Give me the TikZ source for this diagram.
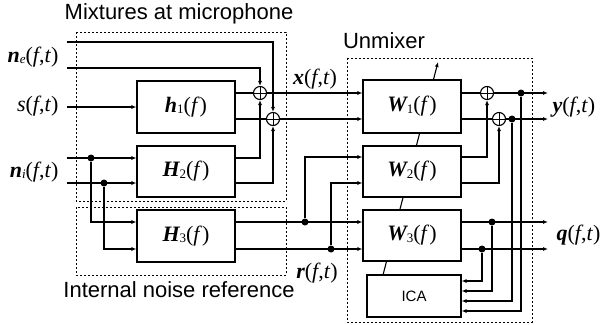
\documentclass[tikz,border=0pt]{standalone}
\usepackage{fontspec}
\setmainfont{Liberation Sans}
\newfontfamily\tms{Liberation Serif}
\usetikzlibrary{arrows.meta}
\newcommand\vv[1]{{\tms\bfseries\itshape #1}}
\newcommand\sbs[1]{\raisebox{-1.5pt}{\tms\fontsize{13}{13}\selectfont #1}}
\newcommand\ft{{\tms(\textit{f},\textit{t})}}
\newcommand\fo{{\tms(\textit{f})}}
\begin{document}
\begin{tikzpicture}[x=1pt,y=-1pt, line width=1.1pt,
 arr/.style={-{Latex[length=5pt,width=4pt]}},
 blk/.style={draw,fill=white,minimum width=98pt,minimum height=52pt,inner sep=0pt,font=\fontsize{22}{24}\selectfont},
 grp/.style={draw,dash pattern=on 2pt off 2pt,line width=1pt},
 adder/.style={draw,circle,minimum size=13pt,inner sep=0pt,path picture={\draw[line width=1pt] (path picture bounding box.north) -- (path picture bounding box.south) (path picture bounding box.west) -- (path picture bounding box.east);}},
 jn/.style={circle,fill,inner sep=0pt,minimum size=7pt},
 lab/.style={font=\fontsize{22}{24}\selectfont, inner sep=0pt},
 ttl/.style={font=\fontsize{22}{24}\selectfont, inner sep=0pt}]
\useasboundingbox (0,0) rectangle (601,324);
% group frames
\draw[grp] (76,32) rectangle (286,201);
\draw[grp] (76,207) rectangle (286,275);
\draw[grp] (347,58) rectangle (532,322);
\node[ttl] (tmix) at (179,14) {Mixtures at microphone};
\node[ttl] (tunm) at (384,41) {Unmixer};
\node[ttl] (tint) at (179,290) {Internal noise reference};
% adaptation arrow (behind the blocks)
\coordinate (adB) at (383,275);
\coordinate (adT) at (438,62);
\draw[arr] (adB) -- (adT);
% blocks
\node[blk] (h1) at (186,107) {\vv{h}\sbs{1}\fo};
\node[blk,minimum height=51pt] (H2) at (186,171.5) {\vv{H}\sbs{2}\fo};
\node[blk] (H3) at (186,236) {\vv{H}\sbs{3}\fo};
\node[blk,minimum height=53pt] (W1) at (412,106.5) {\vv{W}\sbs{1}\fo};
\node[blk,minimum height=51pt] (W2) at (412,171.5) {\vv{W}\sbs{2}\fo};
\node[blk,minimum height=51pt] (W3) at (412,235.5) {\vv{W}\sbs{3}\fo};
\node[blk,minimum width=94pt,minimum height=42pt,font=\fontsize{15}{17}\selectfont] (ica) at (414,296) {ICA};
% adders
\node[adder] (op1) at (260,93) {};
\node[adder] (op2) at (273,119) {};
\node[adder] (op3) at (487,93) {};
\node[adder] (op4) at (499,119) {};
% free ends and levels
\coordinate (ne1) at (67,42);
\coordinate (ne2) at (67,68);
\coordinate (sin) at (67,107);
\coordinate (ni1) at (67,158);
\coordinate (ni2) at (67,183);
\coordinate (r1y) at (0,222);
\coordinate (r2y) at (0,249);
\coordinate (w2a) at (0,157);
\coordinate (w2b) at (0,183);
\coordinate (yo1) at (548,93);
\coordinate (yo2) at (548,119);
\coordinate (qo1) at (548,222);
\coordinate (qo2) at (548,249);
\coordinate (i1) at (0,281);
\coordinate (i2) at (0,291);
\coordinate (i3) at (0,301);
\coordinate (i4) at (0,311);
% mixing part
\draw[arr] (ne1) -| (op2.north);
\draw[arr] (ne2) -| (op1.north);
\draw[arr] (sin) -- (sin -| h1.west);
\draw (h1.east |- op1) -- (op1.west);
\draw (h1.east |- op2) -- (op2.west);
\draw[arr] (op1.east) -- (op1 -| W1.west);
\draw[arr] (op2.east) -- (op2 -| W1.west);
\draw[arr] (ni1) -- (ni1 -| H2.west);
\draw[arr] (ni2) -- (ni2 -| H2.west);
\draw[arr] (H2.east |- ni1) -| (op1.south);
\draw[arr] (H2.east |- ni2) -| (op2.south);
\node[jn] (d1) at (91,158) {};
\node[jn] (d2) at (104,183) {};
\draw[arr] (d1) |- (H3.west |- r1y);
\draw[arr] (d2) |- (H3.west |- r2y);
\draw[arr] (H3.east |- r1y) -- (W3.west |- r1y);
\draw[arr] (H3.east |- r2y) -- (W3.west |- r2y);
\node[jn] (e1) at (305,222) {};
\node[jn] (e2) at (331,249) {};
\draw[arr] (e1) |- (W2.west |- w2a);
\draw[arr] (e2) |- (W2.west |- w2b);
% unmixer outputs
\draw[arr] (W2.east |- w2a) -| (op3.south);
\draw[arr] (W2.east |- w2b) -| (op4.south);
\draw (W1.east |- op3) -- (op3.west);
\draw (W1.east |- op4) -- (op4.west);
\draw[arr] (op3.east) -- (yo1);
\draw[arr] (op4.east) -- (yo2);
\draw[arr] (W3.east |- r1y) -- (qo1);
\draw[arr] (W3.east |- r2y) -- (qo2);
\node[jn] (f1) at (521,93) {};
\node[jn] (f2) at (512,119) {};
\node[jn] (g1) at (492,222) {};
\node[jn] (g2) at (482,249) {};
\draw[arr] (g2) |- (ica.east |- i1);
\draw[arr] (g1) |- (ica.east |- i2);
\draw[arr] (f2) |- (ica.east |- i3);
\draw[arr] (f1) |- (ica.east |- i4);
% signal labels
\node[lab,anchor=east] (lne) at (59,57) {\vv{n}\sbs{\itshape e}\ft};
\node[lab,anchor=east] (ls) at (59,106) {{\tms\itshape s}\ft};
\node[lab,anchor=east] (lni) at (59,172) {\vv{n}\sbs{\itshape i}\ft};
\node[lab] (lx) at (315,79) {\vv{x}\ft};
\node[lab,anchor=west] (ly) at (552,107) {\vv{y}\ft};
\node[lab,anchor=west] (lq) at (556,235) {\vv{q}\ft};
\node[lab] (lr) at (317,273) {\vv{r}\ft};
\end{tikzpicture}
\end{document}
